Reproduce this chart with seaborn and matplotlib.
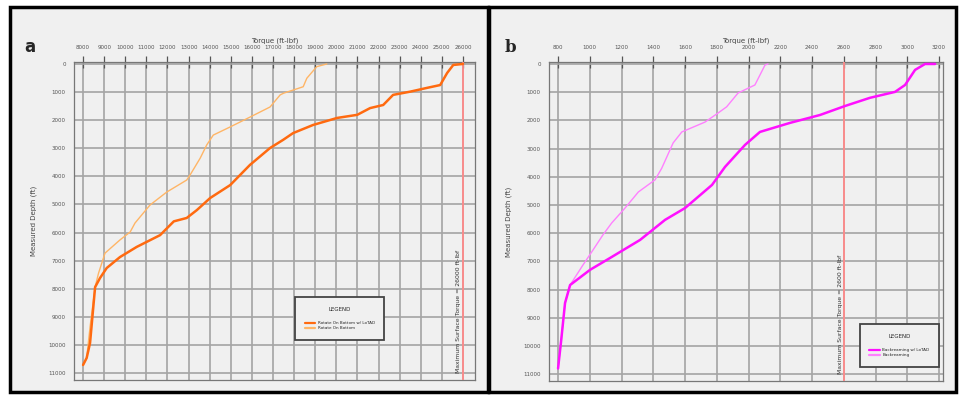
import numpy as np
import pandas as pd
import matplotlib
matplotlib.use("Agg")
import matplotlib.pyplot as plt
import seaborn as sns
from matplotlib.patches import Rectangle
from matplotlib.lines import Line2D

# ---------------- data ----------------
a_lotad_torque = [8000, 8170, 8330, 8570, 8800, 9120, 9750, 10540, 11650, 12300, 12910, 13390,
                  14020, 14970, 15910, 16860, 17480, 17950, 18900, 20040, 20990, 21600, 22220,
                  22690, 23500, 24300, 24920, 25250, 25540, 26000]
a_lotad_depth = [10710, 10460, 9930, 7940, 7620, 7260, 6870, 6510, 6090, 5600, 5480, 5200,
                 4770, 4310, 3590, 2990, 2700, 2460, 2170, 1920, 1810, 1570, 1460,
                 1100, 985, 850, 750, 320, 35, 0]

a_plain_torque = [8000, 8170, 8330, 8570, 8730, 9040, 9750, 10230, 10460, 11170, 11960, 12910,
                  13070, 13550, 13860, 14170, 14970, 15910, 16860, 17340, 17500, 18430, 18600,
                  19070, 19550]
a_plain_depth = [10710, 10460, 9360, 7940, 7450, 6730, 6260, 5980, 5660, 5020, 4560, 4130,
                 3950, 3350, 2880, 2530, 2240, 1890, 1530, 1100, 1040, 810, 510,
                 95, 0]

b_lotad_torque = [800, 820, 844, 876, 1002, 1128, 1317, 1474, 1600, 1770, 1852, 1978, 2072,
                  2261, 2450, 2608, 2765, 2923, 2986, 3049, 3112, 3175]
b_lotad_depth = [10800, 9790, 8480, 7840, 7300, 6880, 6240, 5530, 5110, 4290, 3650, 2870, 2410,
                 2090, 1810, 1490, 1200, 990, 745, 210, 0, 0]

b_plain_torque = [800, 820, 844, 876, 957, 1020, 1083, 1138, 1222, 1306, 1411, 1453, 1525, 1580,
                  1726, 1808, 1862, 1934, 2040, 2072, 2104, 2123]
b_plain_depth = [10800, 9790, 8480, 7840, 7130, 6600, 6060, 5640, 5110, 4540, 4110, 3700, 2800, 2410,
                 2060, 1740, 1520, 1030, 745, 390, 35, 0]

a_xticks = list(range(8000, 26001, 1000))
b_xticks = list(range(800, 3201, 200))
yticks = list(range(0, 11001, 1000))

a_labels = ["Rotate On Bottom w/ LoTAD", "Rotate On Bottom"]
b_labels = ["Backreaming w/ LoTAD", "Backreaming"]
a_limit = 26000
b_limit = 2600
a_limit_text = "Maximum Surface Torque = 26000 ft-lbf"
b_limit_text = "Maximum Surface Torque = 2600 ft-lbf"

# ---------------- style ----------------
sns.set_style("white")
plt.rcParams['font.family'] = ['DejaVu Sans']

W, H = 960, 398
fig = plt.figure(figsize=(W / 100, H / 100), dpi=100)
fig.patch.set_facecolor("white")

BG = "#f0f0f0"

def fr(x0, y0, x1, y1):
    return [x0 / W, 1 - y1 / H, (x1 - x0) / W, (y1 - y0) / H]

# panel frames
for (x0, y0, x1, y1) in [(10, 7, 488, 392), (489, 7, 956, 392)]:
    r = Rectangle((x0 / W, 1 - y1 / H), (x1 - x0) / W, (y1 - y0) / H,
                  transform=fig.transFigure, facecolor=BG, edgecolor="black",
                  linewidth=2.5, zorder=-10)
    fig.patches.append(r)

def style_axes(ax, xlim, xticks):
    ax.set_facecolor(BG)
    ax.set_xlim(*xlim)
    ax.set_ylim(11245, -70)
    ax.xaxis.tick_top()
    ax.xaxis.set_label_position("top")
    ax.set_xticks(xticks)
    ax.set_xticklabels([str(t) for t in xticks])
    ax.set_yticks(yticks)
    ax.set_yticklabels([str(t) for t in yticks])
    ax.tick_params(axis="x", direction="inout", length=9, width=0.9, color="#555555",
                   labelsize=4, labelcolor="#555555", pad=4)
    ax.tick_params(axis="y", direction="out", length=3.5, width=0.9, color="#555555",
                   labelsize=4, labelcolor="#555555", pad=2.5)
    ax.grid(True, color="#a4a4a4", linewidth=1.2)
    for s in ax.spines.values():
        s.set_color("#777777")
        s.set_linewidth(0.9)

def add_legend(ax, handles, labels, anchor, loc):
    lg = ax.legend(handles, labels, title="LEGEND", loc=loc,
                   bbox_to_anchor=anchor, fontsize=3.0, title_fontsize=4.0,
                   frameon=True, fancybox=False, edgecolor="#444444", facecolor=BG,
                   framealpha=1, borderpad=2.3, handlelength=2.6, labelspacing=0.15,
                   handletextpad=0.5)
    lg._legend_box.sep = 7
    lg.get_frame().set_linewidth(1.3)
    return lg

# ---------------- panel a ----------------
axa = fig.add_axes(fr(74, 62, 475, 380))
style_axes(axa, (7570, 26570), a_xticks)
axa.axvline(a_limit, color="#ff8a8a", linewidth=1.3, zorder=3)
sns.lineplot(x=a_plain_torque, y=a_plain_depth, sort=False, estimator=None,
             color="#ffb566", linewidth=1.0, ax=axa, zorder=4)
sns.lineplot(x=a_lotad_torque, y=a_lotad_depth, sort=False, estimator=None,
             color="#ff6a10", linewidth=1.8, ax=axa, zorder=5)
axa.set_xlabel("Torque (ft-lbf)", fontsize=5, color="#444444", labelpad=2)
axa.set_ylabel("Measured Depth (ft)", fontsize=5, color="#444444", labelpad=8)
axa.text(a_limit - 200, 11000, a_limit_text, rotation=90, ha="center", va="bottom",
         fontsize=4.4, color="#333333")
ha = [Line2D([], [], color="#ff6a10", lw=1.6), Line2D([], [], color="#ffb566", lw=1.6)]
add_legend(axa, ha, a_labels, (0.546, 0.267), "upper left")

# ---------------- panel b ----------------
axb = fig.add_axes(fr(549, 62, 943, 381))
style_axes(axb, (743, 3225), b_xticks)
axb.axvline(b_limit, color="#ff8a8a", linewidth=1.3, zorder=3)
sns.lineplot(x=b_plain_torque, y=b_plain_depth, sort=False, estimator=None,
             color="#ff80ff", linewidth=1.0, ax=axb, zorder=4)
sns.lineplot(x=b_lotad_torque, y=b_lotad_depth, sort=False, estimator=None,
             color="#ff10ff", linewidth=1.8, ax=axb, zorder=5)
axb.set_xlabel("Torque (ft-lbf)", fontsize=5, color="#444444", labelpad=2)
axb.set_ylabel("Measured Depth (ft)", fontsize=5, color="#444444", labelpad=8)
axb.text(b_limit - 22, 11000, b_limit_text, rotation=90, ha="center", va="bottom",
         fontsize=4.4, color="#333333")
hb = [Line2D([], [], color="#ff10ff", lw=1.6), Line2D([], [], color="#ff80ff", lw=1.6)]
add_legend(axb, hb, b_labels, (0.995, 0.185), "upper right")

# panel letters
fig.text(30 / W, 1 - 47 / H, "a", fontsize=12, fontweight="bold", ha="center", va="center")
fig.text(510 / W, 1 - 47 / H, "b", fontsize=12, fontweight="bold", ha="center", va="center",
         family="DejaVu Serif")

fig.savefig("out.png", dpi=100, facecolor=fig.get_facecolor())
